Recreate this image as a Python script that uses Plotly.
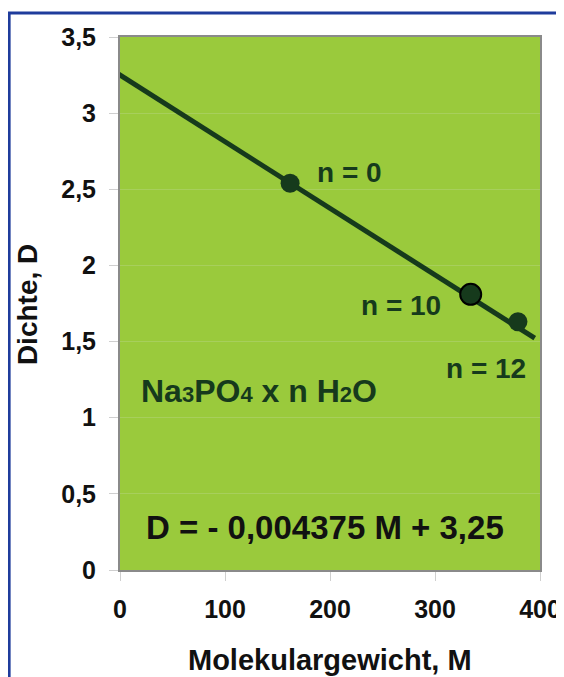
import plotly.graph_objects as go

# data
line_M = [-8, 395]
line_D = [3.285, 1.522]
point_M = [162, 334, 379]
point_D = [2.54, 1.81, 1.63]
point_labels = ["n = 0", "n = 10", "n = 12"]
x_ticks = [0, 100, 200, 300, 400]
y_ticks = [0, 0.5, 1, 1.5, 2, 2.5, 3, 3.5]

FONT = "Liberation Sans, Arial, sans-serif"
DARK = "#163a1c"
GREEN = "#9aca3c"

fig = go.Figure()
fig.add_trace(go.Scatter(x=line_M, y=line_D, mode="lines",
                         line=dict(color=DARK, width=5), cliponaxis=False,
                         hoverinfo="skip", showlegend=False))
fig.add_trace(go.Scatter(x=point_M, y=point_D, mode="markers", cliponaxis=False,
                         marker=dict(color=DARK, size=[19, 21, 19], opacity=1,
                                     line=dict(color="black", width=[0, 2, 0])),
                         showlegend=False))

# labels for points
label_pos = [(218.6, 2.613), (267.3, 1.74), (348.4, 1.326)]
for txt, (lx, ly) in zip(point_labels, label_pos):
    fig.add_annotation(x=lx, y=ly, xref="x", yref="y", text=txt, showarrow=False,
                       font=dict(family=FONT, size=28, color=DARK, weight="bold"))

fig.add_annotation(x=132.7, y=1.175, xref="x", yref="y", showarrow=False,
                   text="Na<span style='font-size:22px'>3</span>PO<span style='font-size:22px'>4</span> x n H<span style='font-size:22px'>2</span>O",
                   font=dict(family=FONT, size=32, color=DARK, weight="bold"))
fig.add_annotation(x=195.7, y=0.276, xref="x", yref="y", showarrow=False,
                   text="D = - 0,004375 M + 3,25",
                   font=dict(family=FONT, size=33, color="#111111", weight="bold"))

# axis titles
fig.add_annotation(x=-0.2214, y=0.497, xref="paper", yref="paper", showarrow=False,
                   xanchor="center", yanchor="middle",
                   text="Dichte, D", textangle=-90,
                   font=dict(family=FONT, size=28, color="#111111", weight="bold"))
fig.add_annotation(x=0.5, y=-0.169, xref="paper", yref="paper", showarrow=False,
                   xanchor="center", yanchor="middle",
                   text="Molekulargewicht, M",
                   font=dict(family=FONT, size=29, color="#111111", weight="bold"))

# outer blue frame
fig.add_shape(type="rect", xref="paper", yref="paper", x0=-0.264, x1=1.3, y0=-0.4, y1=1.045,
              line=dict(color="#1f3c9c", width=3), layer="below")

# page body adds an 8px offset, so the figure is drawn 8px smaller
fig.update_layout(
    width=556, height=669,
    margin=dict(l=112, r=24, t=29, b=107),
    paper_bgcolor="white", plot_bgcolor=GREEN,
    separators=",.",
    showlegend=False,
    xaxis=dict(range=[0, 400], tickvals=x_ticks, showgrid=False, zeroline=False,
               automargin=False,
               ticks="outside", ticklen=9, tickcolor="#cfcfcf", tickwidth=1,
               showline=True, linecolor="#8a8a8a", linewidth=2, mirror=True,
               ticklabelstandoff=7,
               tickfont=dict(family=FONT, size=25, color="#111111", weight="bold")),
    yaxis=dict(range=[0, 3.5], tickvals=y_ticks, showgrid=True, gridcolor="#a7cf5c",
               gridwidth=1, zeroline=False, automargin=False,
               ticks="outside", ticklen=9, tickcolor="#cfcfcf", tickwidth=1,
               showline=True, linecolor="#8a8a8a", linewidth=2, mirror=True,
               ticklabelstandoff=8,
               tickfont=dict(family=FONT, size=25, color="#111111", weight="bold")),
)

fig.write_html("out.html")
